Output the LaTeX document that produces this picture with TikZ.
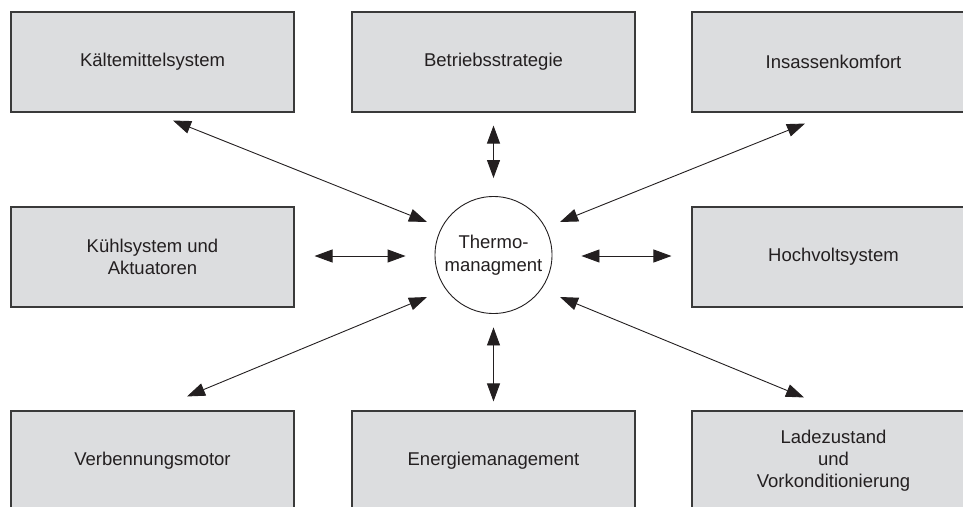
\documentclass[tikz,border=0pt]{standalone}
\usepackage{fontspec}
\setmainfont{Liberation Sans}
\usetikzlibrary{arrows.meta}
\definecolor{boxfill}{HTML}{DCDDDF}
\definecolor{boxline}{HTML}{3A3A3A}
\definecolor{txt}{HTML}{231F20}
\tikzset{
  sysbox/.style={draw=boxline, line width=1.1pt, fill=boxfill, minimum width=283pt, minimum height=100pt, inner sep=0pt, align=center, text=txt, font=\fontsize{18.5}{22.2}\selectfont},
  hub/.style={circle, draw=txt, line width=0.9pt, fill=white, minimum size=117pt, inner sep=0pt, align=center, text=txt, font=\fontsize{18.5}{23}\selectfont},
  biarrow/.style={line width=0.9pt, draw=txt, {Triangle[length=18pt,width=13pt]}-{Triangle[length=18pt,width=13pt]}}
}
\begin{document}
\begin{tikzpicture}[x=1pt,y=-1pt]
\useasboundingbox (0,0) rectangle (963,506);
\clip (0,0) rectangle (963,506);
\node[sysbox] (kaelte)   at (152.5,62)  {Kältemittelsystem};
\node[sysbox] (betrieb)  at (493.5,62)  {Betriebsstrategie};
\node[sysbox] (insassen) at (833.5,62)  {Insassenkomfort};
\node[sysbox] (kuehl)    at (152.5,257) {Kühlsystem und\\Aktuatoren};
\node[sysbox] (hochvolt) at (833.5,257) {Hochvoltsystem};
\node[sysbox] (verbrenn) at (152.5,461) {Verbennungsmotor};
\node[sysbox] (energie)  at (493.5,461) {Energiemanagement};
\node[sysbox] (lade)     at (833.5,461) {Ladezustand\\und\\Vorkonditionierung};
\node[hub] (thermo) at (493.5,255) {Thermo-\\managment};
% connectors
\draw[biarrow] ([shift={(20.5,8)}]kaelte.south) -- ([shift={(-66.5,-33)}]thermo.center);
\draw[biarrow] ([shift={(0,13)}]betrieb.south) -- ([shift={(0,-18)}]thermo.north);
\draw[biarrow] ([shift={(-28.5,11)}]insassen.south) -- ([shift={(66.5,-33)}]thermo.center);
\draw[biarrow] ([shift={(20,-1)}]kuehl.east) -- ([shift={(-29,1)}]thermo.west);
\draw[biarrow] ([shift={(29,1)}]thermo.east) -- ([shift={(-20,-1)}]hochvolt.west);
\draw[biarrow] ([shift={(34.5,-14)}]verbrenn.north) -- ([shift={(-66.5,42)}]thermo.center);
\draw[biarrow] ([shift={(0,13.5)}]thermo.south) -- ([shift={(0,-9)}]energie.north);
\draw[biarrow] ([shift={(66.5,42)}]thermo.center) -- ([shift={(-29.5,-13)}]lade.north);
\end{tikzpicture}
\end{document}
